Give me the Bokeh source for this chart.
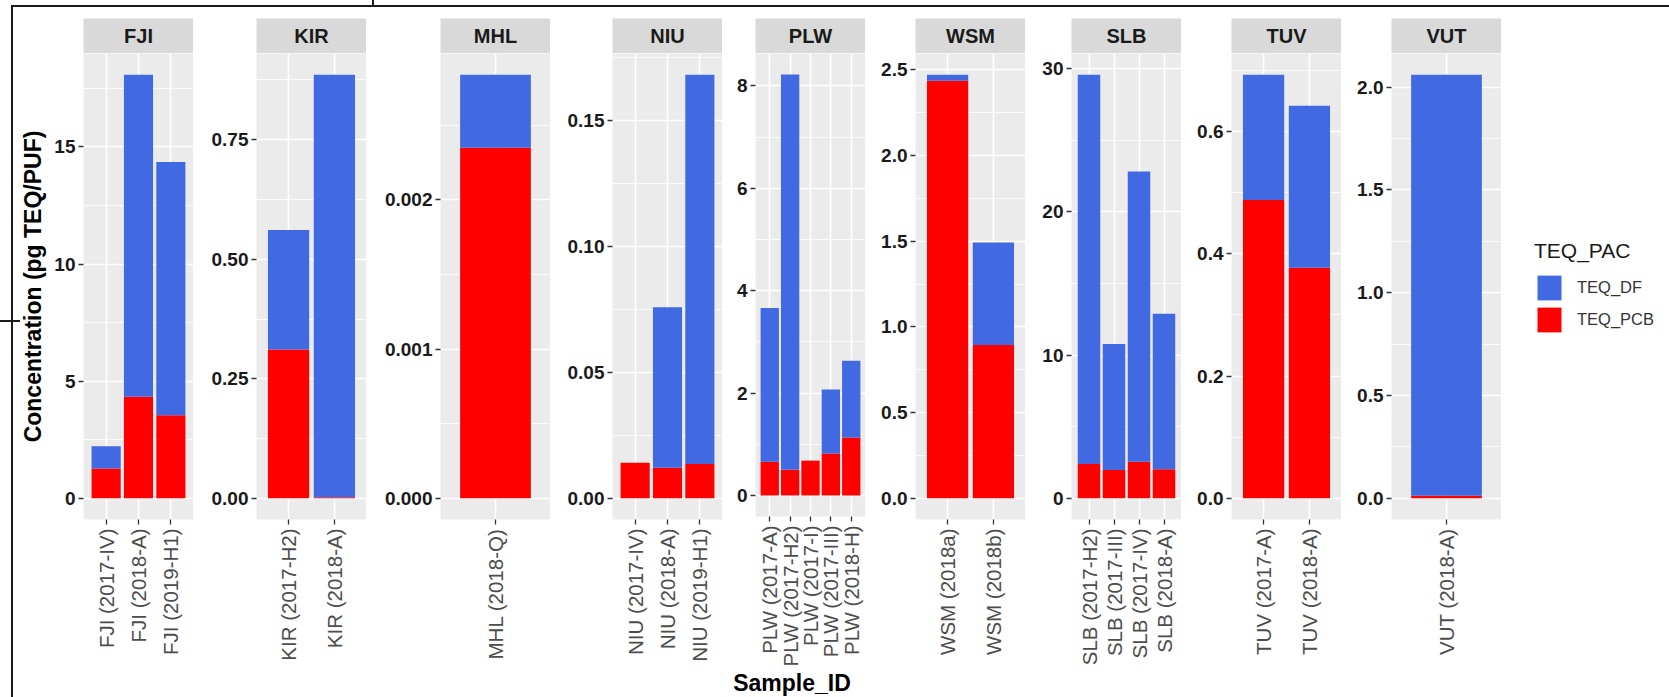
import math

from bokeh.core.properties import value
from bokeh.embed import file_html
from bokeh.layouts import column, row
from bokeh.models import (ColumnDataSource, Div, FactorRange, FixedTicker, InlineStyleSheet,
                          Legend, LegendItem, PrintfTickFormatter, Range1d)
from bokeh.plotting import figure
from bokeh.resources import INLINE

# ---------------------------------------------------------------- data
countries = ["FJI", "KIR", "MHL", "NIU", "PLW", "WSM", "SLB", "TUV", "VUT"]

sample_id = [
    "FJI (2017-IV)", "FJI (2018-A)", "FJI (2019-H1)",
    "KIR (2017-H2)", "KIR (2018-A)",
    "MHL (2018-Q)",
    "NIU (2017-IV)", "NIU (2018-A)", "NIU (2019-H1)",
    "PLW (2017-A)", "PLW (2017-H2)", "PLW (2017-I)", "PLW (2017-III)", "PLW (2018-H)",
    "WSM (2018a)", "WSM (2018b)",
    "SLB (2017-H2)", "SLB (2017-III)", "SLB (2017-IV)", "SLB (2018-A)",
    "TUV (2017-A)", "TUV (2018-A)",
    "VUT (2018-A)",
]
sample_country = [
    "FJI", "FJI", "FJI",
    "KIR", "KIR",
    "MHL",
    "NIU", "NIU", "NIU",
    "PLW", "PLW", "PLW", "PLW", "PLW",
    "WSM", "WSM",
    "SLB", "SLB", "SLB", "SLB",
    "TUV", "TUV",
    "VUT",
]
# pg TEQ / PUF
teq_pcb = [
    1.27, 4.33, 3.55,
    0.311, 0.002,
    0.00235,
    0.0141, 0.0121, 0.0136,
    0.66, 0.50, 0.68, 0.82, 1.13,
    2.436, 0.895,
    2.40, 1.98, 2.56, 2.03,
    0.488, 0.377,
    0.012,
]
teq_df = [
    0.95, 13.75, 10.80,
    0.25, 0.884,
    0.00049,
    0.0, 0.0637, 0.1544,
    3.00, 7.72, 0.0, 1.25, 1.50,
    0.035, 0.597,
    27.18, 8.80, 20.26, 10.85,
    0.2048, 0.265,
    2.048,
]

# y-axis breaks for each facet
fji_ticks = [0, 5, 10, 15]
kir_ticks = [0, 0.25, 0.5, 0.75]
mhl_ticks = [0, 0.001, 0.002]
niu_ticks = [0, 0.05, 0.10, 0.15]
plw_ticks = [0, 2, 4, 6, 8]
wsm_ticks = [0, 0.5, 1.0, 1.5, 2.0, 2.5]
slb_ticks = [0, 10, 20, 30]
tuv_ticks = [0, 0.2, 0.4, 0.6]
vut_ticks = [0, 0.5, 1.0, 1.5, 2.0]
tick_lists = [fji_ticks, kir_ticks, mhl_ticks, niu_ticks, plw_ticks,
              wsm_ticks, slb_ticks, tuv_ticks, vut_ticks]
tick_decimals = [0, 2, 3, 2, 0, 1, 0, 1, 1]

series = ["TEQ_PCB", "TEQ_DF"]          # stacking order, bottom first
series_colors = ["#FF0000", "#4169E1"]

# ---------------------------------------------------------------- layout / style
FONT = "Liberation Sans"
PANEL_W = 110
PANEL_H = 466
STRIP_H = 35
TOP_PAD = 18
BOTTOM_PAD = 150
LEGEND_W = 167
panel_left = [83, 256, 440, 612, 755, 915, 1071, 1231, 1391]


def facet_source(country):
    idx = [k for k, c in enumerate(sample_country) if c == country]
    xs = [sample_id[k] for k in idx]
    src = ColumnDataSource(dict(
        x=xs,
        TEQ_PCB=[teq_pcb[k] for k in idx],
        TEQ_DF=[teq_df[k] for k in idx],
    ))
    top = max(teq_pcb[k] + teq_df[k] for k in idx)
    return xs, src, top


facet_columns = []
prev_right = 0

for i, country in enumerate(countries):
    xs, src, top = facet_source(country)
    y0, y1 = -0.05 * top, 1.05 * top

    gap = panel_left[i] - prev_right
    width = gap + PANEL_W
    prev_right = panel_left[i] + PANEL_W

    # facet strip
    s = figure(x_range=Range1d(0, 1), y_range=Range1d(0, 1),
               width=width, height=TOP_PAD + STRIP_H,
               min_border_left=gap, min_border_right=0,
               min_border_top=TOP_PAD, min_border_bottom=0,
               x_axis_type=None, y_axis_type=None,
               output_backend="svg", toolbar_location=None,
               background_fill_color="#D9D9D9", border_fill_color="white",
               outline_line_color=None)
    s.grid.visible = False
    s.text(x=[0.5], y=[0.5], text=[country], text_align="center",
           text_baseline="middle", text_font=value(FONT),
           text_font_size="20px", text_font_style="bold", text_color="#1A1A1A")

    # panel
    p = figure(x_range=FactorRange(factors=xs, range_padding=0.2,
                                   range_padding_units="absolute"),
               y_range=Range1d(y0, y1),
               width=width, height=PANEL_H + BOTTOM_PAD,
               min_border_left=gap, min_border_right=0,
               min_border_top=0, min_border_bottom=BOTTOM_PAD,
               output_backend="svg", toolbar_location=None,
               background_fill_color="#EBEBEB", border_fill_color="white",
               outline_line_color=None)
    p.vbar_stack(series, x="x", width=0.9, fill_color=series_colors,
                 line_color=None, source=src)

    ticks = tick_lists[i]
    step = ticks[1] - ticks[0]
    minors = [t + step / 2 for t in ticks if y0 <= t + step / 2 <= y1]
    ticker = FixedTicker(ticks=ticks, minor_ticks=minors)
    p.yaxis.ticker = ticker
    p.ygrid.ticker = ticker
    p.yaxis.formatter = PrintfTickFormatter(format=f"%.{tick_decimals[i]}f")

    p.ygrid.grid_line_color = "white"
    p.ygrid.grid_line_width = 1.6
    p.ygrid.minor_grid_line_color = "white"
    p.ygrid.minor_grid_line_width = 0.8
    p.xgrid.grid_line_color = "white"
    p.xgrid.grid_line_width = 1.6

    for ax in (p.xaxis[0], p.yaxis[0]):
        ax.axis_line_color = None
        ax.major_tick_line_color = "#333333"
        ax.major_tick_line_width = 1.3
        ax.major_tick_out = 5
        ax.major_tick_in = 0
        ax.minor_tick_line_color = None

    p.yaxis.major_label_text_font = FONT
    p.yaxis.major_label_text_font_size = "19px"
    p.yaxis.major_label_text_font_style = "bold"
    p.yaxis.major_label_text_color = "#1A1A1A"
    p.yaxis.major_label_standoff = 3

    p.xaxis.major_label_orientation = math.pi / 2
    p.xaxis.major_label_text_font = FONT
    p.xaxis.major_label_text_font_size = "20.5px"
    p.xaxis.major_label_text_color = "#4D4D4D"
    p.xaxis.major_label_standoff = 4

    if i == 0:
        p.yaxis.axis_label = "Concentration (pg TEQ/PUF)"
        p.yaxis.axis_label_text_font = FONT
        p.yaxis.axis_label_text_font_size = "23px"
        p.yaxis.axis_label_text_font_style = "bold"
        p.yaxis.axis_label_text_color = "#000000"
        p.yaxis.axis_label_standoff = 5

    facet_columns.append(column(s, p, spacing=0))

# ---------------------------------------------------------------- legend
# The legend lives in its own narrow figure; its keys are taken from
# (hidden) stacked bars of the last facet's data.
xs, src, top = facet_source(countries[-1])
lg = figure(x_range=FactorRange(factors=xs), y_range=Range1d(0, top),
            width=LEGEND_W, height=TOP_PAD + STRIP_H + PANEL_H + BOTTOM_PAD,
            min_border_left=0, min_border_right=0, min_border_top=0,
            min_border_bottom=0, x_axis_type=None, y_axis_type=None,
            output_backend="svg", toolbar_location=None,
            background_fill_color="white", border_fill_color="white",
            outline_line_color=None)
lg.grid.visible = False
key_rs = lg.vbar_stack(series, x="x", width=0.9, fill_color=series_colors,
                       line_color=None, source=src)
for r in key_rs:
    r.visible = False

legend = Legend(
    items=[LegendItem(label="TEQ_DF", renderers=[key_rs[1]]),
           LegendItem(label="TEQ_PCB", renderers=[key_rs[0]])],
    title="TEQ_PAC", title_text_font=FONT, title_text_font_size="21px",
    title_text_font_style="normal", title_text_color="#1A1A1A",
    title_standoff=9,
    label_text_font=FONT, label_text_font_size="16.5px",
    label_text_color="#333333", label_standoff=13,
    glyph_width=30, glyph_height=31, label_height=31, spacing=1,
    padding=0, margin=0, border_line_color=None,
    background_fill_alpha=0, inactive_fill_alpha=0,
    location=(33, 334))
lg.add_layout(legend)

xtitle = Div(text="Sample_ID", width=1584, height=28, margin=0,
             styles={"text-align": "center", "font-weight": "bold",
                     "font-size": "23px", "font-family": FONT,
                     "line-height": "29px", "color": "#000000"})

frame_css = InlineStyleSheet(css="""
:host { position: relative; }
:host::after {
  content: ""; position: absolute; left: 0; top: 0;
  width: 1669px; height: 697px; pointer-events: none;
  background:
    linear-gradient(#1a1a1a, #1a1a1a) 12px 5px / 1657px 2px no-repeat,
    linear-gradient(#1a1a1a, #1a1a1a) 11px 5px / 2px 692px no-repeat,
    linear-gradient(#1a1a1a, #1a1a1a) 372px 0px / 2px 6px no-repeat,
    linear-gradient(#1a1a1a, #1a1a1a) 0px 320px / 20px 2px no-repeat;
}
""")

top_row = row(*facet_columns, lg, spacing=0)
layout = column(top_row, xtitle, spacing=0, stylesheets=[frame_css])

open("out.html", "w").write(file_html(layout, INLINE))
